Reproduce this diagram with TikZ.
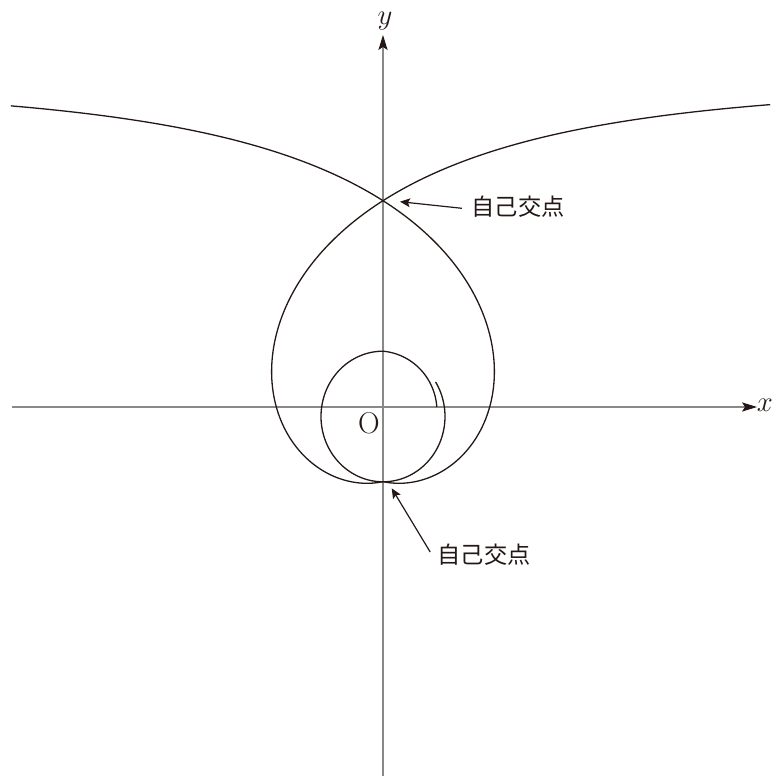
\documentclass[tikz,border=0pt]{standalone}
\usepackage{fontspec}
\newfontfamily\cjk{Noto Sans CJK JP}
\usetikzlibrary{arrows.meta,calc}
\definecolor{curvecol}{RGB}{35,24,21}
\definecolor{axiscol}{RGB}{137,137,137}
\begin{document}
\begin{tikzpicture}[x=0.5pt,y=0.5pt,
  axisline/.style={draw=axiscol,line width=0.55pt,-{Stealth[length=7.5pt,width=4.6pt,inset=1.5pt,color=curvecol]}},
  curve/.style={draw=curvecol,line width=0.65pt},
  ptr/.style={draw=curvecol,line width=0.6pt,-{Stealth[length=5pt,width=4.4pt,inset=1pt]}},
  cjklab/.style={inner sep=0pt,font=\cjk\fontsize{11.6}{14}\selectfont,text=curvecol},
  mlab/.style={inner sep=0pt,font=\fontsize{15}{18}\selectfont,text=curvecol}]
\useasboundingbox (-383,-369) rectangle (389,407);
% axes
\coordinate (xs) at (-371,0);
\coordinate (xe) at (374,0);
\coordinate (ys) at (0,-369);
\coordinate (ye) at (0,372);
\coordinate (O) at (0,0);
\draw[axisline] (xs) -- (xe);
\draw[axisline] (ys) -- (ye);
\node[mlab] (xl) at (382,2) {$x$};
\node[mlab] (yl) at (2,386) {$y$};
\node[mlab] (ol) at (-14,-16.3) {O};
% hyperbolic spiral branches
\draw[curve] plot[domain=0.670:4.7124,samples=300,smooth,variable=\t]
  ({331*cos(\t r)/\t},{331*sin(\t r)/\t-4.4});
\draw[curve] plot[domain=0.6875:4.7124,samples=300,smooth,variable=\t]
  ({-331*cos(\t r)/\t},{331*sin(\t r)/\t-4.4});
% inner loop
\draw[curve] plot[domain=32:-350.5,samples=240,smooth,variable=\p]
  ({62*(1-0.12*max(0,-270-\p)/80.5)*cos(\p)},{-9.5+65.3*(1-0.12*max(0,-270-\p)/80.5)*sin(\p)});
% self intersection points
\coordinate (P1) at (0,206.3);
\coordinate (P2) at (0,-74.7);
\node[cjklab] (l1) at (135,200) {自己交点};
\node[cjklab] (l2) at (101,-148) {自己交点};
\draw[ptr] ([shift={(-9.3,-1.3)}]l1.west) -- ([shift={(17,-1)}]P1);
\draw[ptr] ([shift={(-7,3)}]l2.west) -- ([shift={(8.7,-6.6)}]P2);
\end{tikzpicture}
\end{document}
